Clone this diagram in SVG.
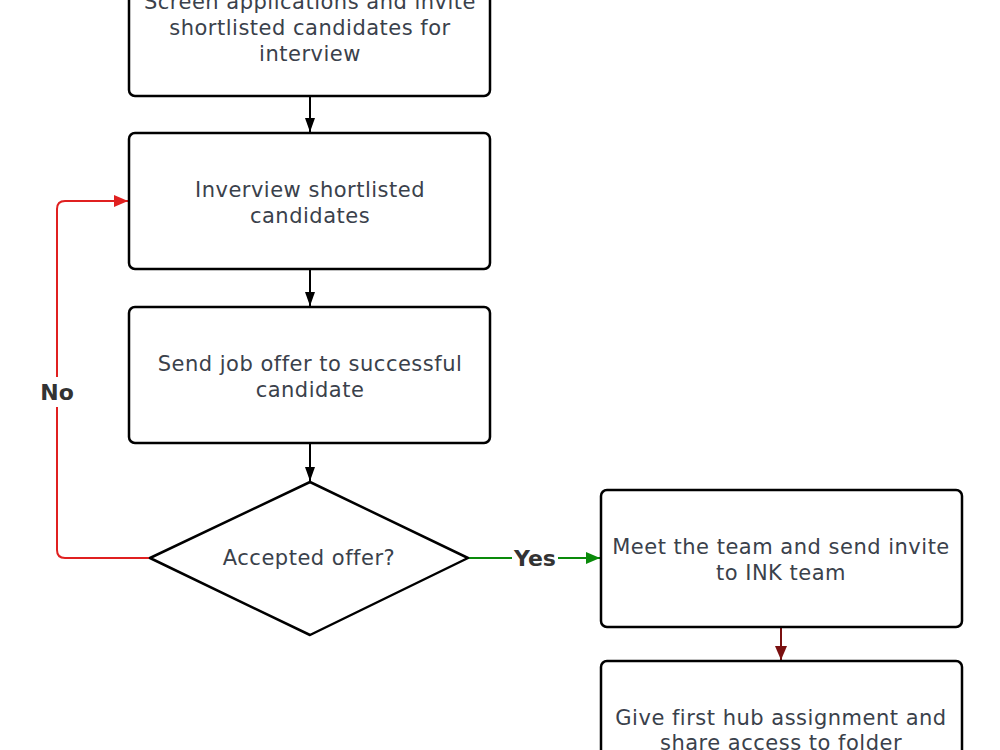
<svg xmlns="http://www.w3.org/2000/svg" width="1000" height="750" viewBox="0 0 1000 750">
<defs>
<style>
.box{fill:#fff;stroke:#000;stroke-width:2.5}
.t{font-family:"DejaVu Sans","Open Sans",sans-serif;font-size:21px;letter-spacing:0.5px;fill:#3a414b;text-anchor:middle;dominant-baseline:central}
.lbl{font-family:"DejaVu Sans","Open Sans",sans-serif;font-size:22px;font-weight:bold;fill:#333;text-anchor:middle;dominant-baseline:central}
.c{fill:none;stroke-width:2}
</style>
<marker id="ak" viewBox="0 0 14 12" refX="14" refY="6" markerWidth="14" markerHeight="12" markerUnits="userSpaceOnUse" orient="auto"><path d="M0,1 L14,6 L0,11 z" fill="#000"/></marker>
<marker id="ar" viewBox="0 0 14 12" refX="14" refY="6" markerWidth="14" markerHeight="12" markerUnits="userSpaceOnUse" orient="auto"><path d="M0,0 L14,6 L0,12 z" fill="#e02020"/></marker>
<marker id="ag" viewBox="0 0 14 12" refX="14" refY="6" markerWidth="14" markerHeight="12" markerUnits="userSpaceOnUse" orient="auto"><path d="M0,0 L14,6 L0,12 z" fill="#0a8a0a"/></marker>
<marker id="ad" viewBox="0 0 14 12" refX="14" refY="6" markerWidth="14" markerHeight="12" markerUnits="userSpaceOnUse" orient="auto"><path d="M0,0 L14,6 L0,12 z" fill="#7a1010"/></marker>
</defs>
<rect width="1000" height="750" fill="#fff"/>
<g id="connectors">
<path class="c" d="M310,96 V132" stroke="#000" marker-end="url(#ak)"/>
<path class="c" d="M310,269 V306" stroke="#000" marker-end="url(#ak)"/>
<path class="c" d="M310,443 V481" stroke="#000" marker-end="url(#ak)"/>
<path class="c" d="M150,558 H65 Q57,558 57,550 V209 Q57,201 65,201 H128" stroke="#e02020" marker-end="url(#ar)"/>
<path class="c" d="M468,558 H600" stroke="#0a8a0a" marker-end="url(#ag)"/>
<path class="c" d="M781,627 V660" stroke="#7a1010" marker-end="url(#ad)"/>
<rect x="37" y="377" width="40" height="30" fill="#fff"/>
<text class="lbl" x="57" y="392">No</text>
<rect x="512" y="545" width="46" height="26" fill="#fff"/>
<text class="lbl" x="535" y="558">Yes</text>
</g>
<g id="n1"><rect class="box" x="129" y="-40" width="361" height="136" rx="6"/>
<text class="t" x="310" y="2">Screen applications and invite</text>
<text class="t" x="310" y="28">shortlisted candidates for</text>
<text class="t" x="310" y="54">interview</text></g>
<g id="n2"><rect class="box" x="129" y="133" width="361" height="136" rx="6"/>
<text class="t" x="310" y="190">Inverview shortlisted</text>
<text class="t" x="310" y="216">candidates</text></g>
<g id="n3"><rect class="box" x="129" y="307" width="361" height="136" rx="6"/>
<text class="t" x="310" y="364">Send job offer to successful</text>
<text class="t" x="310" y="390">candidate</text></g>
<g id="n4"><path class="box" d="M310,482 L468,558 L310,635 L150,558 Z" stroke-linejoin="round"/>
<text class="t" x="309" y="558">Accepted offer?</text></g>
<g id="n5"><rect class="box" x="601" y="490" width="361" height="137" rx="6"/>
<text class="t" x="781" y="547">Meet the team and send invite</text>
<text class="t" x="781" y="573">to INK team</text></g>
<g id="n6"><rect class="box" x="601" y="661" width="361" height="137" rx="6"/>
<text class="t" x="781" y="718">Give first hub assignment and</text>
<text class="t" x="781" y="743">share access to folder</text></g>
</svg>
